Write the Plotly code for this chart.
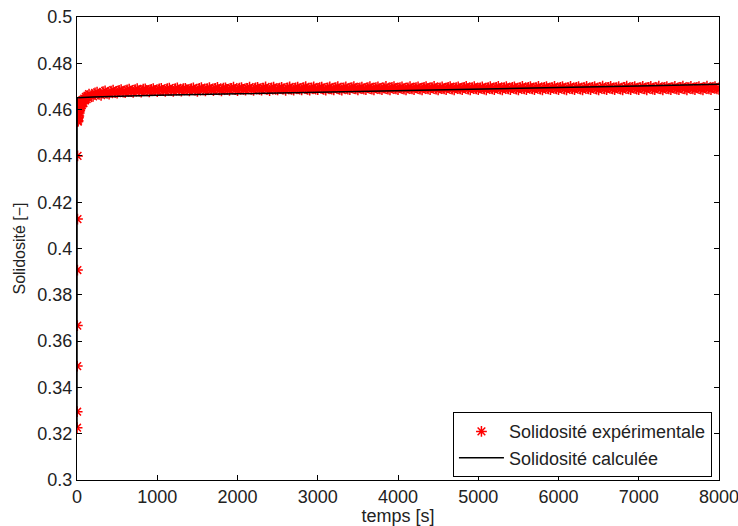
import plotly.graph_objects as go

outlier_time = [1, 2, 3, 4, 5, 6, 7]
outlier_sol = [0.3226, 0.3295, 0.3492, 0.3667, 0.3907, 0.4127, 0.4400]

early_time = [8, 10, 12, 14, 16, 18, 20, 22, 25, 28, 30, 33, 36, 40, 45, 50,
              55, 60, 70, 80, 90, 100, 110, 120, 130, 140]
early_sol = [0.4560, 0.4548, 0.4575, 0.4552, 0.4590, 0.4565, 0.4600, 0.4572,
             0.4610, 0.4585, 0.4618, 0.4595, 0.4625, 0.4605, 0.4632, 0.4612,
             0.4638, 0.4620, 0.4642, 0.4628, 0.4648, 0.4640, 0.4655, 0.4645,
             0.4660, 0.4650]

main_time_a = list(range(150, 8001, 50))
main_sol_a = [
    0.4667, 0.4657, 0.4675, 0.4662, 0.4681, 0.4667, 0.4684, 0.4671, 0.4686, 0.4673,
    0.4688, 0.4674, 0.4690, 0.4676, 0.4689, 0.4677, 0.4691, 0.4678, 0.4692, 0.4679,
    0.4693, 0.4679, 0.4694, 0.4680, 0.4692, 0.4681, 0.4694, 0.4679, 0.4695, 0.4681,
    0.4695, 0.4682, 0.4696, 0.4681, 0.4694, 0.4683, 0.4697, 0.4682, 0.4695, 0.4684,
    0.4697, 0.4683, 0.4696, 0.4684, 0.4698, 0.4682, 0.4697, 0.4685, 0.4696, 0.4683,
    0.4698, 0.4684, 0.4697, 0.4685, 0.4699, 0.4684, 0.4698, 0.4686, 0.4697, 0.4684,
    0.4698, 0.4685, 0.4699, 0.4684, 0.4698, 0.4686, 0.4699, 0.4685, 0.4697, 0.4686,
    0.4699, 0.4685, 0.4698, 0.4686, 0.4700, 0.4685, 0.4699, 0.4686, 0.4698, 0.4685,
    0.4699, 0.4686, 0.4698, 0.4685, 0.4699, 0.4686, 0.4700, 0.4685, 0.4698, 0.4686,
    0.4699, 0.4685, 0.4698, 0.4686, 0.4700, 0.4685, 0.4699, 0.4686, 0.4698, 0.4685,
    0.4699, 0.4686, 0.4700, 0.4685, 0.4699, 0.4686, 0.4698, 0.4685, 0.4700, 0.4686,
    0.4699, 0.4686, 0.4700, 0.4685, 0.4699, 0.4686, 0.4700, 0.4686, 0.4699, 0.4685,
    0.4700, 0.4686, 0.4699, 0.4685, 0.4700, 0.4686, 0.4699, 0.4685, 0.4701, 0.4686,
    0.4700, 0.4686, 0.4699, 0.4685, 0.4701, 0.4686, 0.4699, 0.4686, 0.4700, 0.4685,
    0.4700, 0.4686, 0.4701, 0.4685, 0.4699, 0.4686, 0.4700, 0.4686, 0.4701, 0.4685,
    0.4700, 0.4686, 0.4699, 0.4685, 0.4701, 0.4686, 0.4699, 0.4687,
]

main_time_b = list(range(175, 7976, 50))
main_sol_b = [
    0.4660, 0.4672, 0.4666, 0.4677, 0.4670, 0.4680, 0.4673, 0.4683, 0.4676, 0.4685,
    0.4678, 0.4686, 0.4680, 0.4688, 0.4681, 0.4687, 0.4682, 0.4689, 0.4682, 0.4690,
    0.4683, 0.4690, 0.4684, 0.4691, 0.4685, 0.4690, 0.4684, 0.4692, 0.4685, 0.4691,
    0.4686, 0.4692, 0.4685, 0.4693, 0.4687, 0.4692, 0.4686, 0.4693, 0.4687, 0.4692,
    0.4687, 0.4694, 0.4688, 0.4693, 0.4687, 0.4694, 0.4688, 0.4693, 0.4689, 0.4694,
    0.4688, 0.4694, 0.4689, 0.4695, 0.4688, 0.4694, 0.4689, 0.4695, 0.4688, 0.4694,
    0.4689, 0.4695, 0.4688, 0.4694, 0.4689, 0.4695, 0.4690, 0.4694, 0.4689, 0.4695,
    0.4689, 0.4695, 0.4690, 0.4694, 0.4689, 0.4696, 0.4690, 0.4695, 0.4689, 0.4694,
    0.4690, 0.4695, 0.4689, 0.4696, 0.4690, 0.4695, 0.4689, 0.4694, 0.4690, 0.4696,
    0.4689, 0.4695, 0.4690, 0.4696, 0.4689, 0.4695, 0.4690, 0.4694, 0.4689, 0.4695,
    0.4690, 0.4696, 0.4689, 0.4695, 0.4690, 0.4696, 0.4689, 0.4695, 0.4690, 0.4696,
    0.4690, 0.4695, 0.4689, 0.4696, 0.4690, 0.4695, 0.4690, 0.4696, 0.4689, 0.4695,
    0.4690, 0.4696, 0.4689, 0.4695, 0.4690, 0.4696, 0.4689, 0.4695, 0.4690, 0.4696,
    0.4690, 0.4695, 0.4689, 0.4696, 0.4690, 0.4696, 0.4689, 0.4695, 0.4690, 0.4696,
    0.4689, 0.4695, 0.4690, 0.4696, 0.4690, 0.4695, 0.4689, 0.4696, 0.4690, 0.4695,
    0.4690, 0.4696, 0.4689, 0.4695, 0.4690, 0.4696, 0.4690,
]

exp_time = outlier_time + early_time + main_time_a + main_time_b
exp_sol = outlier_sol + early_sol + main_sol_a + main_sol_b

# ---- calculated curve ----
calc_time = [0, 1, 200, 500, 1000, 2000, 3000, 4000, 5000, 6000, 7000, 8000]
calc_sol = [0.3226, 0.4651, 0.4654, 0.4658, 0.4662, 0.4668, 0.4674, 0.4680,
            0.4688, 0.4695, 0.4702, 0.4709]

x_ticks = [0, 1000, 2000, 3000, 4000, 5000, 6000, 7000, 8000]
y_ticks = [0.3, 0.32, 0.34, 0.36, 0.38, 0.4, 0.42, 0.44, 0.46, 0.48, 0.5]

FONT = "Liberation Sans, Arial, Helvetica, sans-serif"
FS = 18

fig = go.Figure()
fig.add_trace(go.Scatter(
    x=exp_time, y=exp_sol, mode="markers",
    name="Solidosité expérimentale",
    marker=dict(symbol="asterisk-open", size=9, color="red",
                line=dict(color="red", width=1.5)),
))
fig.add_trace(go.Scatter(
    x=calc_time, y=calc_sol, mode="lines",
    name="Solidosité calculée",
    line=dict(color="black", width=1.5),
))

axis_common = dict(
    showgrid=False, zeroline=False, showline=True, linecolor="black",
    linewidth=1, mirror="ticks", ticks="inside", ticklen=5,
    tickcolor="black", automargin=False, ticklabeloverflow="allow",
    tickfont=dict(size=FS, color="#222", family=FONT),
)

fig.update_layout(
    width=738, height=526,
    margin=dict(l=77, r=19, t=17, b=46),
    paper_bgcolor="white", plot_bgcolor="white",
    font=dict(family=FONT, size=FS, color="#222"),
    xaxis=dict(range=[0, 8000], tickvals=x_ticks,
               ticktext=[str(v) for v in x_ticks],
               title=dict(text="temps [s]", standoff=0,
                          font=dict(size=18, family=FONT)),
               **axis_common),
    yaxis=dict(range=[0.3, 0.5], tickvals=y_ticks,
               ticktext=[f"{v:g}" for v in y_ticks],
               title=dict(text="Solidosité [−]", standoff=7,
                          font=dict(size=16, family=FONT)),
               **axis_common),
    legend=dict(x=0.989, y=0.006, xanchor="right", yanchor="bottom",
                bgcolor="white", bordercolor="black", borderwidth=1,
                itemwidth=45, tracegroupgap=0,
                font=dict(size=FS, family=FONT)),
    showlegend=True,
)

fig.write_html("out.html",
               config={"displayModeBar": False},
               post_script="document.body.style.margin='0';"
                           "document.body.style.overflow='hidden';")
